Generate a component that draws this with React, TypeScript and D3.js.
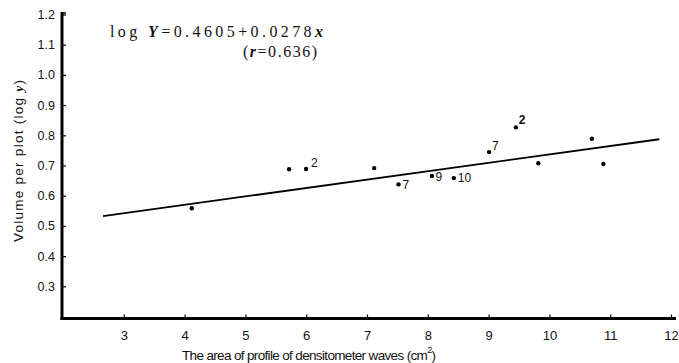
import React from "react";
import * as d3 from "d3";

const xValues = [4.11, 5.71, 5.99, 7.11, 7.51, 8.06, 8.42, 9.0, 9.44, 9.81, 10.69, 10.88];
const yValues = [0.56, 0.689, 0.69, 0.693, 0.639, 0.667, 0.66, 0.746, 0.828, 0.709, 0.79, 0.707];
const pointLabels = ["", "", "2", "", "7", "9", "10", "7", "2", "", "", ""];
const xTicks = [3, 4, 5, 6, 7, 8, 9, 10, 11, 12];
const yTicks = [0.3, 0.4, 0.5, 0.6, 0.7, 0.8, 0.9, 1.0, 1.1, 1.2];
const intercept = 0.4605;
const slope = 0.0278;
const lineRange = [2.65, 11.8];

// label placement (style, not data)
const labelOffsets: [number, number][] = [
  [0, 0], [0, 0], [5, -2.5], [0, 0], [4, 4.5], [3.5, 5], [4, 4], [3, -2], [3, -3.5], [0, 0], [0, 0], [0, 0],
];

const W = 679;
const H = 363;
const SANS = "'Liberation Sans', Arial, sans-serif";
const SERIF = "'Liberation Serif', 'Times New Roman', serif";

export default function App() {
  const x = d3.scaleLinear().domain([2, 12]).range([63.5, 671.5]);
  const y = d3.scaleLinear().domain([0.2, 1.2]).range([317, 15]);
  const line = d3
    .line<number>()
    .x((d) => x(d))
    .y((d) => y(intercept + slope * d));

  const axisLeft = 62;
  const axisBottom = 318.5;

  return (
    <svg
      width={W}
      height={H}
      viewBox={`0 0 ${W} ${H}`}
      style={{ position: "absolute", left: 0, top: 0, background: "#fff" }}
    >
      <rect x={0} y={0} width={W} height={H} fill="#fff" />
      {/* Axes */}
      <line x1={axisLeft} y1={12} x2={axisLeft} y2={axisBottom + 1.5} stroke="#000" strokeWidth={3} />
      <line x1={axisLeft - 1.5} y1={axisBottom} x2={676} y2={axisBottom} stroke="#000" strokeWidth={3} />
      <line x1={axisLeft} y1={13} x2={axisLeft + 4} y2={13} stroke="#000" strokeWidth={1.5} />
      {/* Y ticks */}
      {yTicks.map((t) => (
        <g key={"yt" + t}>
          <line x1={axisLeft} x2={axisLeft + 4} y1={y(t)} y2={y(t)} stroke="#000" strokeWidth={1.2} />
          <text
            x={55}
            y={y(t)}
            textAnchor="end"
            dominantBaseline="central"
            fontFamily={SANS}
            fontSize={12.5}
            fill="#111"
          >
            {d3.format(".1f")(t)}
          </text>
        </g>
      ))}
      {/* X ticks */}
      {xTicks.map((t) => (
        <g key={"xt" + t}>
          <line x1={x(t)} x2={x(t)} y1={axisBottom} y2={axisBottom - 4} stroke="#000" strokeWidth={1.2} />
          <text
            x={x(t)}
            y={335}
            textAnchor="middle"
            dominantBaseline="central"
            fontFamily={SANS}
            fontSize={13}
            fill="#111"
          >
            {t}
          </text>
        </g>
      ))}
      {/* Axis titles */}
      <text
        x={309}
        y={355}
        textAnchor="middle"
        dominantBaseline="central"
        fontFamily={SANS}
        fontSize={13.5}
        fill="#111"
        textLength={254}
        lengthAdjust="spacing"
      >
        The area of profile of densitometer waves (cm<tspan dy={-5} fontSize={9}>2</tspan>
        <tspan dy={5}>)</tspan>
      </text>
      <text
        transform={`translate(18,161) rotate(-90)`}
        textAnchor="middle"
        dominantBaseline="central"
        fontFamily={SANS}
        fontSize={13.5}
        fill="#111"
        textLength={162}
        lengthAdjust="spacing"
      >
        Volume per plot (log <tspan fontStyle="italic" fontWeight="bold" fontFamily={SERIF}>y</tspan>)
      </text>
      {/* Regression line */}
      <path d={line(lineRange) || ""} fill="none" stroke="#000" strokeWidth={1.8} />
      {/* Points */}
      {xValues.map((xv, i) => (
        <g key={"p" + i}>
          <circle cx={x(xv)} cy={y(yValues[i])} r={2.2} fill="#000" />
          {pointLabels[i] && (
            <text
              x={x(xv) + labelOffsets[i][0]}
              y={y(yValues[i]) + labelOffsets[i][1]}
              fontFamily={SANS}
              fontSize={12}
              fontWeight={i === 8 ? "bold" : "normal"}
              fill="#111"
            >
              {pointLabels[i]}
            </text>
          )}
        </g>
      ))}
      {/* Equation */}
      <text
        x={110}
        y={37}
        fontFamily={SERIF}
        fontSize={16}
        fill="#111"
        textLength={213}
        lengthAdjust="spacing"
      >
        log <tspan fontStyle="italic" fontWeight="bold">Y</tspan>=0.4605+0.0278
        <tspan fontStyle="italic" fontWeight="bold">x</tspan>
      </text>
      <text
        x={243}
        y={57}
        fontFamily={SERIF}
        fontSize={16}
        fill="#111"
        textLength={74}
        lengthAdjust="spacing"
      >
        (<tspan fontStyle="italic" fontWeight="bold">r</tspan>=0.636)
      </text>
    </svg>
  );
}
